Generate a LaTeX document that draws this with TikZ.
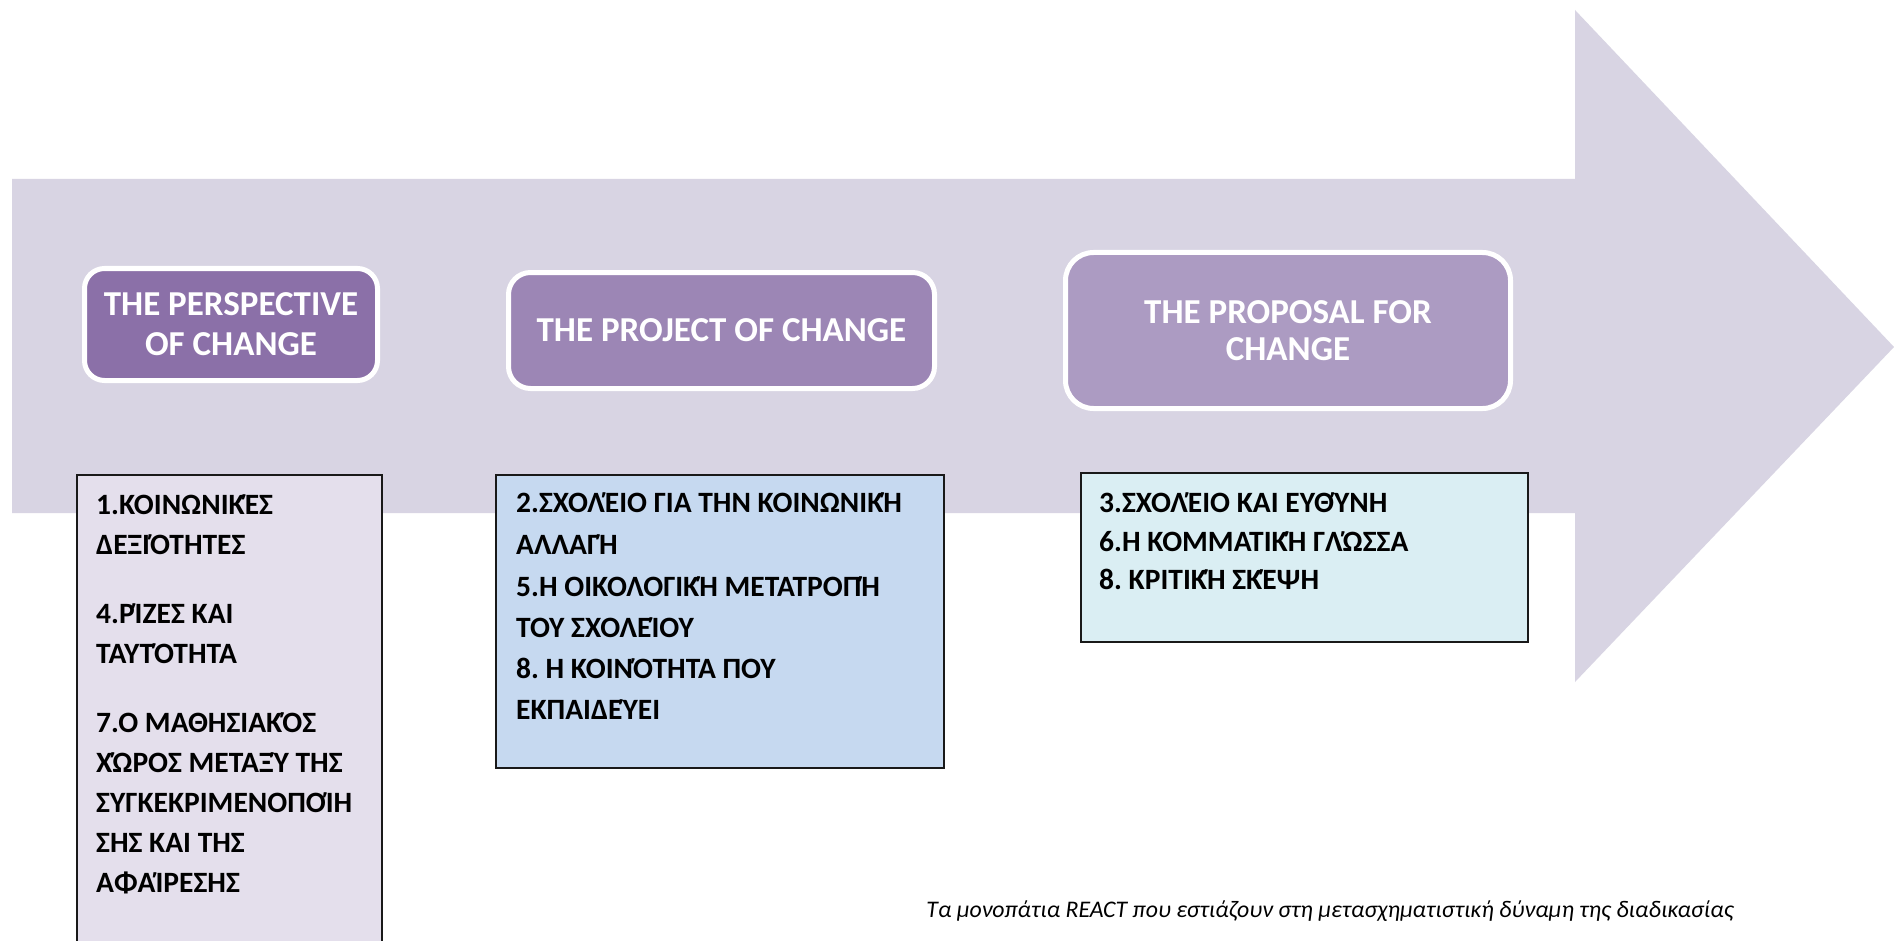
\documentclass[tikz,border=0pt]{standalone}
\usepackage{fontspec}
% keep the tonos on accented capitals (no contextual accent removal)
\setmainfont{Carlito}[Contextuals=NoAlternate, Ligatures=NoCommon, RawFeature=-ccmp]
\frenchspacing
\definecolor{arrowc}{HTML}{D8D4E3}
\definecolor{headA}{HTML}{8B70A8}
\definecolor{headB}{HTML}{9C86B5}
\definecolor{headC}{HTML}{AC9BC2}
\definecolor{listA}{HTML}{E4DFEC}
\definecolor{listB}{HTML}{C6D9F0}
\definecolor{listC}{HTML}{DAEEF3}
\begin{document}
\begin{tikzpicture}[x=1pt,y=-1pt,
  headbox/.style={rounded corners=#1, draw=white, line width=5pt, text=white,
    align=center, inner sep=0pt},
  headfont/.style={font=\bfseries\fontsize{35}{#1}\selectfont},
  listbox/.style={draw=black!90, line width=1.8pt, inner sep=0pt},
  item/.style={anchor=base west, inner sep=0pt, text=black,
    font=\bfseries\fontsize{29.5}{35}\selectfont},
  caption/.style={inner sep=0pt, font=\itshape\fontsize{23.8}{28}\selectfont}]
\useasboundingbox (0,0) rectangle (1894,941);
\fill[white] (0,0) rectangle (1894,941);

% the large arrow in the background
\fill[arrowc] (12,179) -- (1575,179) -- (1575,10) -- (1894,347)
  -- (1575,682) -- (1575,513) -- (12,513) -- cycle;

% stage headers
\node[headbox=20pt, headfont=40, fill=headA, minimum width=293pt, minimum height=112pt]
  (hA) at (231,324.5) {THE PERSPECTIVE\\OF CHANGE};
\node[headbox=22pt, headfont=40, fill=headB, minimum width=426pt, minimum height=116pt]
  (hB) at (721.5,330.5) {THE PROJECT OF CHANGE};
\node[headbox=28pt, headfont=37, fill=headC, minimum width=445pt, minimum height=156pt]
  (hC) at (1288,330.5) {THE PROPOSAL FOR\\CHANGE};

% lists of paths under each stage
\node[listbox, fill=listA, minimum width=305pt, minimum height=485pt] (lA) at (229.5,717.5) {};
\node[listbox, fill=listB, minimum width=448pt, minimum height=293pt] (lB) at (720,621.5) {};
\node[listbox, fill=listC, minimum width=447pt, minimum height=169pt] (lC) at (1304.5,557.5) {};

\foreach \y/\t [count=\i] in {
  505/1.ΚΟΙΝΩΝΙΚΈΣ, 545/ΔΕΞΙΌΤΗΤΕΣ,
  614/4.ΡΊΖΕΣ ΚΑΙ, 654/ΤΑΥΤΌΤΗΤΑ,
  723/7.Ο ΜΑΘΗΣΙΑΚΌΣ, 763/ΧΏΡΟΣ ΜΕΤΑΞΎ ΤΗΣ, 803/ΣΥΓΚΕΚΡΙΜΕΝΟΠΟΊΗ,
  843/ΣΗΣ ΚΑΙ ΤΗΣ, 883/ΑΦΑΊΡΕΣΗΣ}
  \node[item] (a\i) at (96,\y+9) {\t};

\foreach \y/\t [count=\i] in {
  503/2.ΣΧΟΛΈΙΟ ΓΙΑ ΤΗΝ ΚΟΙΝΩΝΙΚΉ, 545/ΑΛΛΑΓΉ,
  587/5.Η ΟΙΚΟΛΟΓΙΚΉ ΜΕΤΑΤΡΟΠΉ, 628/ΤΟΥ ΣΧΟΛΕΊΟΥ,
  669/8. Η ΚΟΙΝΌΤΗΤΑ ΠΟΥ, 710/ΕΚΠΑΙΔΕΎΕΙ}
  \node[item] (b\i) at (516,\y+9) {\t};

\foreach \y/\t [count=\i] in {
  503/3.ΣΧΟΛΈΙΟ ΚΑΙ ΕΥΘΎΝΗ, 542/6.Η ΚΟΜΜΑΤΙΚΉ ΓΛΏΣΣΑ, 580/8. ΚΡΙΤΙΚΉ ΣΚΈΨΗ}
  \node[item] (c\i) at (1099,\y+9) {\t};

\node[caption] (cap) at (1330,911)
  {Τα μονοπάτια REACT που εστιάζουν στη μετασχηματιστική δύναμη της διαδικασίας};
\end{tikzpicture}
\end{document}
